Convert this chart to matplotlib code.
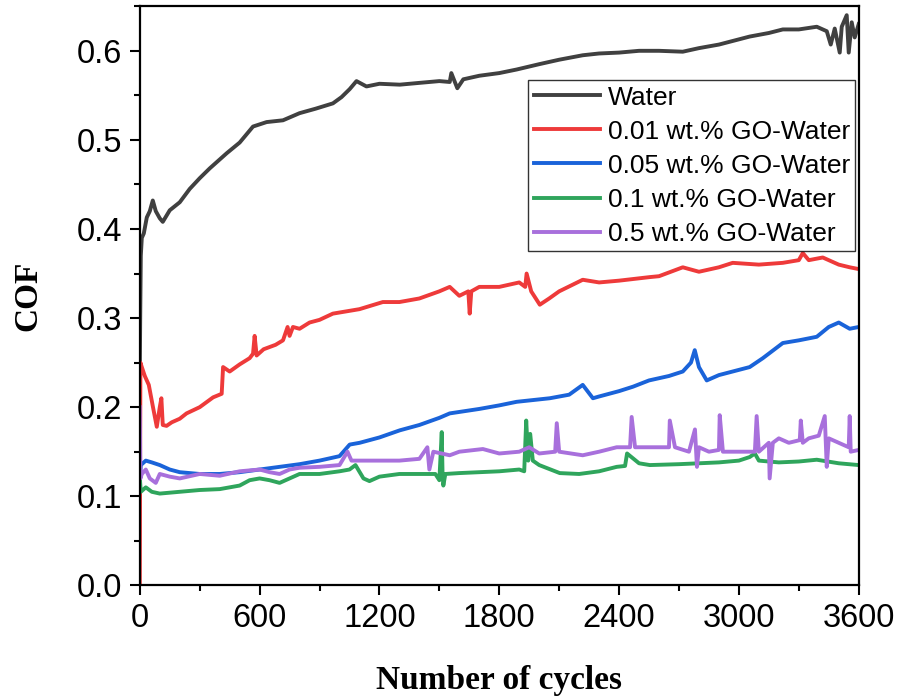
import matplotlib
matplotlib.use("Agg")
import matplotlib.pyplot as plt
from matplotlib.ticker import MultipleLocator

# (cycle, COF) pairs
water_pts = [(0, 0.24), (2, 0.30), (5, 0.37), (10, 0.39), (20, 0.395), (35, 0.413), (50, 0.42),
             (65, 0.432), (80, 0.42), (100, 0.412), (115, 0.408), (150, 0.421), (200, 0.43),
             (250, 0.445), (300, 0.457), (350, 0.468), (435, 0.485), (500, 0.497), (567, 0.515),
             (635, 0.52), (717, 0.522), (800, 0.53), (880, 0.535), (967, 0.541), (1010, 0.548),
             (1051, 0.557), (1085, 0.566), (1135, 0.56), (1200, 0.563), (1302, 0.562),
             (1400, 0.564), (1500, 0.566), (1552, 0.565), (1560, 0.575), (1590, 0.558),
             (1620, 0.568), (1700, 0.572), (1800, 0.575), (1887, 0.579), (2000, 0.585),
             (2100, 0.59), (2218, 0.595), (2300, 0.597), (2400, 0.598), (2500, 0.6), (2600, 0.6),
             (2719, 0.599), (2800, 0.603), (2900, 0.607), (3054, 0.616), (3150, 0.62),
             (3220, 0.624), (3300, 0.624), (3390, 0.627), (3440, 0.622), (3460, 0.607),
             (3480, 0.625), (3505, 0.598), (3515, 0.627), (3540, 0.64), (3550, 0.598),
             (3565, 0.632), (3580, 0.615), (3600, 0.63)]

go001_pts = [(0, 0.0), (3, 0.25), (10, 0.245), (25, 0.235), (45, 0.225), (66, 0.2), (85, 0.178),
             (100, 0.2), (108, 0.21), (115, 0.18), (134, 0.179), (160, 0.183), (200, 0.187),
             (234, 0.193), (300, 0.2), (367, 0.211), (410, 0.215), (417, 0.245), (450, 0.24),
             (500, 0.248), (550, 0.255), (567, 0.26), (575, 0.28), (585, 0.258), (620, 0.265),
             (680, 0.27), (717, 0.275), (740, 0.29), (750, 0.28), (767, 0.29), (800, 0.288),
             (850, 0.295), (900, 0.298), (967, 0.305), (1100, 0.31), (1217, 0.318), (1300, 0.318),
             (1400, 0.322), (1500, 0.33), (1552, 0.335), (1600, 0.325), (1645, 0.33),
             (1652, 0.305), (1660, 0.33), (1700, 0.335), (1800, 0.335), (1900, 0.34),
             (1930, 0.335), (1937, 0.35), (1960, 0.33), (2003, 0.315), (2050, 0.322),
             (2100, 0.33), (2218, 0.343), (2300, 0.34), (2400, 0.342), (2554, 0.346),
             (2600, 0.347), (2719, 0.357), (2800, 0.352), (2900, 0.357), (2969, 0.362),
             (3100, 0.36), (3220, 0.362), (3300, 0.365), (3320, 0.373), (3350, 0.365),
             (3420, 0.368), (3500, 0.36), (3555, 0.357), (3600, 0.355)]

go005_pts = [(0, 0.12), (5, 0.135), (30, 0.14), (60, 0.138), (100, 0.135), (150, 0.13),
             (200, 0.127), (300, 0.125), (400, 0.125), (500, 0.127), (600, 0.13), (700, 0.133),
             (800, 0.136), (900, 0.14), (1000, 0.145), (1051, 0.158), (1101, 0.16), (1200, 0.166),
             (1302, 0.174), (1400, 0.18), (1500, 0.188), (1552, 0.193), (1700, 0.198),
             (1800, 0.202), (1887, 0.206), (2053, 0.21), (2150, 0.214), (2218, 0.225),
             (2269, 0.21), (2300, 0.212), (2400, 0.218), (2470, 0.223), (2550, 0.23),
             (2650, 0.235), (2719, 0.24), (2760, 0.25), (2779, 0.264), (2800, 0.245),
             (2839, 0.23), (2900, 0.236), (3054, 0.245), (3120, 0.255), (3220, 0.272),
             (3300, 0.275), (3390, 0.279), (3450, 0.29), (3500, 0.295), (3555, 0.288),
             (3600, 0.29)]

go01_pts = [(0, 0.12), (5, 0.105), (30, 0.11), (60, 0.105), (100, 0.103), (200, 0.105),
            (300, 0.107), (400, 0.108), (450, 0.11), (500, 0.112), (550, 0.118), (600, 0.12),
            (650, 0.118), (700, 0.115), (750, 0.12), (800, 0.125), (900, 0.125), (1000, 0.128),
            (1050, 0.13), (1080, 0.135), (1120, 0.12), (1150, 0.117), (1200, 0.122),
            (1300, 0.125), (1400, 0.125), (1480, 0.125), (1500, 0.118), (1512, 0.172),
            (1516, 0.125), (1520, 0.112), (1530, 0.125), (1600, 0.126), (1700, 0.127),
            (1800, 0.128), (1900, 0.13), (1925, 0.128), (1935, 0.185), (1945, 0.14),
            (1955, 0.17), (1968, 0.14), (2000, 0.135), (2103, 0.126), (2200, 0.125),
            (2300, 0.128), (2388, 0.133), (2430, 0.134), (2440, 0.148), (2500, 0.137),
            (2554, 0.135), (2700, 0.136), (2800, 0.137), (2900, 0.138), (3000, 0.14),
            (3054, 0.144), (3080, 0.148), (3100, 0.14), (3200, 0.138), (3300, 0.139),
            (3390, 0.141), (3500, 0.137), (3600, 0.135)]

go05_pts = [(0, 0.2), (3, 0.12), (10, 0.125), (30, 0.13), (50, 0.12), (80, 0.115), (100, 0.125),
            (150, 0.122), (200, 0.12), (300, 0.125), (400, 0.123), (500, 0.128), (600, 0.13),
            (650, 0.127), (700, 0.125), (750, 0.13), (800, 0.132), (900, 0.133), (1000, 0.135),
            (1040, 0.15), (1060, 0.14), (1100, 0.14), (1200, 0.14), (1300, 0.14), (1400, 0.142),
            (1440, 0.155), (1450, 0.13), (1470, 0.15), (1552, 0.146), (1600, 0.15),
            (1718, 0.153), (1800, 0.148), (1900, 0.15), (1950, 0.155), (2000, 0.148),
            (2080, 0.15), (2088, 0.182), (2100, 0.15), (2218, 0.146), (2300, 0.15),
            (2388, 0.155), (2455, 0.155), (2463, 0.189), (2480, 0.155), (2554, 0.155),
            (2650, 0.155), (2654, 0.185), (2680, 0.155), (2750, 0.15), (2780, 0.175),
            (2790, 0.133), (2800, 0.155), (2850, 0.15), (2900, 0.152), (2904, 0.191),
            (2920, 0.15), (3000, 0.15), (3080, 0.15), (3089, 0.19), (3100, 0.15), (3150, 0.16),
            (3154, 0.12), (3170, 0.16), (3200, 0.165), (3250, 0.16), (3305, 0.163),
            (3310, 0.185), (3320, 0.16), (3350, 0.165), (3400, 0.168), (3430, 0.19),
            (3440, 0.133), (3450, 0.165), (3500, 0.16), (3550, 0.155), (3555, 0.19),
            (3560, 0.15), (3600, 0.152)]

series = [water_pts, go001_pts, go005_pts, go01_pts, go05_pts]
labels = ['Water', '0.01 wt.% GO-Water', '0.05 wt.% GO-Water',
          '0.1 wt.% GO-Water', '0.5 wt.% GO-Water']
colors = ['#404040', '#ee3a3a', '#1a63d9', '#2fa55c', '#a870dc']

plt.rcParams['font.family'] = ['Liberation Sans', 'DejaVu Sans']

fig = plt.figure(figsize=(9.02, 6.96), dpi=100)
ax = fig.add_axes([0.155, 0.159, 0.797, 0.832])

for pts, label, color in zip(series, labels, colors):
    xs = [p[0] for p in pts]
    ys = [p[1] for p in pts]
    ax.plot(xs, ys, color=color, lw=2.8, label=label)

ax.set_xlim(0, 3600)
ax.set_ylim(0, 0.65)
ax.xaxis.set_major_locator(MultipleLocator(600))
ax.xaxis.set_minor_locator(MultipleLocator(300))
ax.yaxis.set_major_locator(MultipleLocator(0.1))
ax.yaxis.set_minor_locator(MultipleLocator(0.05))
ax.tick_params(which='major', direction='out', length=7, width=1.5, labelsize=23.5, pad=6)
ax.tick_params(which='minor', direction='out', length=4, width=1.5)
for sp in ax.spines.values():
    sp.set_linewidth(1.6)

ax.set_xlabel('Number of cycles', fontsize=24, fontweight='bold',
              family='Liberation Serif', labelpad=22)
ax.set_ylabel('COF', fontsize=24, fontweight='bold',
              family='Liberation Serif', labelpad=24)

leg = ax.legend(loc='upper right', bbox_to_anchor=(0.995, 0.872), borderaxespad=0,
                fontsize=19, frameon=True, fancybox=False, handlelength=2.5,
                handletextpad=0.3, labelspacing=0.38, borderpad=0.2)
leg.get_frame().set_edgecolor('black')
leg.get_frame().set_linewidth(1.0)

fig.savefig('out.png', dpi=100)
